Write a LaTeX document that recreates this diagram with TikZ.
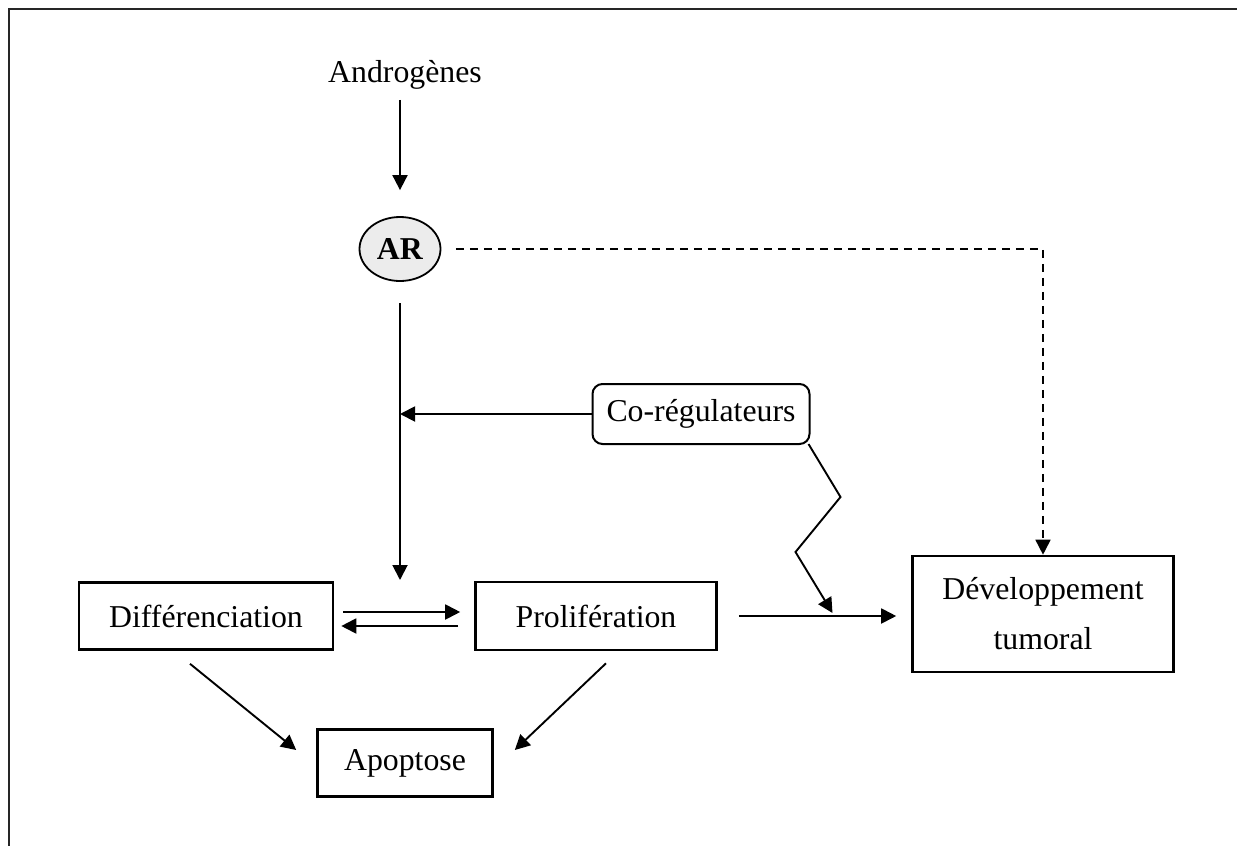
\documentclass[tikz,border=0pt]{standalone}
\usepackage{fontspec}
\setmainfont{Liberation Serif}
\usetikzlibrary{arrows.meta,shapes.geometric}

\begin{document}
\begin{tikzpicture}[
  x=0.5pt,y=-0.5pt,
  font=\fontsize{15.9}{25}\selectfont,
  every node/.style={align=center,inner sep=0pt},
  box/.style={draw,line width=1.3pt,minimum height=33.5pt},
  coreg/.style={draw,line width=1pt,rounded corners=5pt,minimum width=108.5pt,minimum height=30pt},
  recep/.style={draw,ellipse,fill=gray!15,line width=0.9pt,minimum width=40.5pt,minimum height=32pt},
  arr/.style={-{Triangle[length=7.5pt,width=7.5pt]},line width=0.95pt},
  dasharr/.style={arr,line width=0.8pt,dash pattern=on 4pt off 3pt}
]
\useasboundingbox (0,0) rectangle (1237,846);
% cadre
\draw[line width=1.2pt,black!85] (9,846) -- (9,9) -- (1237,9);

\node (andro) at (405,75) {Androgènes};
\node[recep] (ar) at (400,249) {\textbf{AR}};
\node[coreg] (coreg) at (701,414) {Co-régulateurs};
\node[box,minimum width=127pt] (diff) at (206,616) {Différenciation};
\node[box,minimum width=120.5pt,minimum height=34pt] (prolif) at (596,616) {Prolifération};
\node[box,minimum width=130.5pt,minimum height=58pt] (dev) at (1043,614) {Développement\\tumoral};
\node[box,minimum width=87.5pt] (apop) at (405,763) {Apoptose};

\coordinate (join) at (400,580);
\coordinate (hit) at (400,414);

\draw[arr,shorten <=5pt,shorten >=13pt] (ar |- andro.south) -- (ar);
\draw[arr,shorten <=10.75pt] (ar) -- (join);
\draw[arr] (coreg.west) -- (hit);
\draw[dasharr,shorten <=7.25pt] (ar.east) -| (dev.north);
\draw[arr,shorten <=4.5pt,shorten >=7pt] ([yshift=2pt]diff.east) -- ([yshift=2pt]prolif.west);
\draw[arr,shorten <=8pt,shorten >=3.5pt] ([yshift=-5pt]prolif.west) -- ([yshift=-5pt]diff.east);
\draw[arr,shorten <=10.5pt,shorten >=7.5pt] (prolif.east) -- (prolif.east -| dev.west);
\draw[arr] ([shift={(-2,-1)}]coreg.south east) -- ++(32,53) -- ++(-45,55) -- ++(37,61);
\draw[arr] ([xshift=-8pt,yshift=-6.5pt]diff.south) -- ([xshift=-10pt,yshift=6.5pt]apop.west);
\draw[arr] ([xshift=5pt,yshift=-6pt]prolif.south) -- ([xshift=10.5pt,yshift=6.5pt]apop.east);
\end{tikzpicture}
\end{document}
